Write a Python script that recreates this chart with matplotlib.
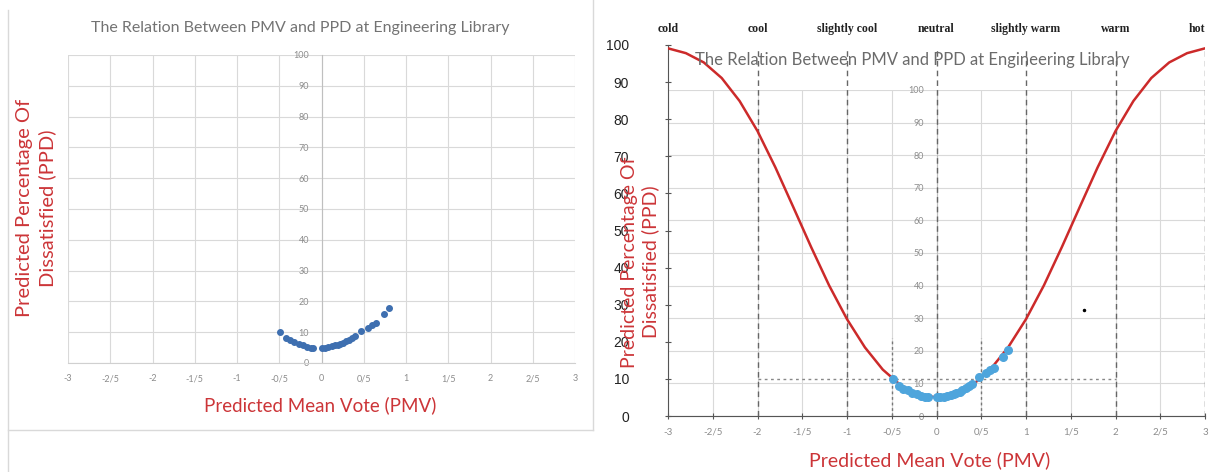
import numpy as np
import matplotlib
matplotlib.use("Agg")
import matplotlib.pyplot as plt
from matplotlib.lines import Line2D
from matplotlib.transforms import blended_transform_factory

# survey points (PMV, PPD)
pmv = [-0.49, -0.42, -0.37, -0.32, -0.27, -0.22, -0.17, -0.13, -0.10, 0.0, 0.04, 0.08,
       0.12, 0.16, 0.19, 0.22, 0.26, 0.29, 0.33, 0.36, 0.40, 0.47, 0.55, 0.60, 0.64, 0.74, 0.80]
ppd = [10.0, 8.0, 7.4, 6.9, 6.3, 5.9, 5.3, 5.0, 5.0, 5.0, 5.0, 5.1,
       5.4, 5.7, 6.0, 6.2, 6.6, 7.0, 7.5, 8.0, 8.7, 10.5, 11.5, 12.5, 13.0, 16.0, 17.8]

# red reference curve
curve_pmv = [-3.0, -2.8, -2.6, -2.4, -2.2, -2.0, -1.8, -1.6, -1.4, -1.2, -1.0, -0.8, -0.6, -0.4, -0.2,
             0.0, 0.2, 0.4, 0.6, 0.8, 1.0, 1.2, 1.4, 1.6, 1.8, 2.0, 2.2, 2.4, 2.6, 2.8, 3.0]
curve_ppd = [99.1, 97.8, 95.3, 91.1, 84.9, 76.8, 67.0, 56.3, 45.5, 35.2, 26.1, 18.5, 12.5, 8.3, 5.8,
             5.0, 5.8, 8.3, 12.5, 18.5, 26.1, 35.2, 45.5, 56.3, 67.0, 76.8, 84.9, 91.1, 95.3, 97.8, 99.1]

x_ticks = [-3, -2.5, -2, -1.5, -1, -0.5, 0, 0.5, 1, 1.5, 2, 2.5, 3]
x_labels = ['-3', '-2/5', '-2', '-1/5', '-1', '-0/5', '0', '0/5', '1', '1/5', '2', '2/5', '3']
y_ticks = [0, 10, 20, 30, 40, 50, 60, 70, 80, 90, 100]

sensation = ['cold', 'cool', 'slightly cool', 'neutral', 'slightly warm', 'warm', 'hot']
sensation_pmv = [-3, -2, -1, 0, 1, 2, 3]
dashed_pmv = [-2, -1, 0, 1, 2, 3]
stray_dot = (1.65, 28.6)

title = 'The Relation Between PMV and PPD at Engineering Library'
red = '#cc3538'
W, H = 1213, 472

plt.rcParams['font.family'] = ['Lato', 'DejaVu Sans']
fig = plt.figure(figsize=(W / 100, H / 100), dpi=100)


def px_axes(x0, y0, x1, y1):
    return fig.add_axes([x0 / W, 1 - y1 / H, (x1 - x0) / W, (y1 - y0) / H])


def excel_grid(ax):
    ax.set_xlim(-3, 3)
    ax.set_ylim(0, 100)
    ax.set_xticks(x_ticks)
    ax.set_yticks(y_ticks)
    ax.grid(True, color='#d9d9d9', lw=0.8)
    ax.set_axisbelow(True)
    for s in ['top', 'right']:
        ax.spines[s].set_visible(False)
    ax.spines['left'].set_position(('data', 0))
    ax.spines['left'].set_color('#bfbfbf')
    ax.spines['bottom'].set_color('#d0d0d0')
    ax.tick_params(length=0, labelsize=6.5, labelcolor='#8c8c8c')
    ax.tick_params(axis='y', pad=9)


# frame of the left chart
for xs, ys in [([8, 8], [10, 472]), ([8, 593], [430, 430]), ([593, 593], [0, 430])]:
    fig.add_artist(Line2D([x / W for x in xs], [1 - y / H for y in ys],
                          transform=fig.transFigure, color='#d9d9d9', lw=1))

# ---------- left chart ----------
ax1 = px_axes(68, 55, 575, 363)
excel_grid(ax1)
ax1.set_xticklabels(x_labels)
ax1.tick_params(axis='x', pad=8)
ax1.scatter(pmv, ppd, s=16, color='#3e6fb0', zorder=3)

fig.text(300 / W, 1 - 28 / H, title, ha='center', va='center', fontsize=11.5, color='#737373')
fig.text(320 / W, 1 - 405 / H, 'Predicted Mean Vote (PMV)', ha='center', va='center',
         fontsize=13.5, color=red)
fig.text(36 / W, 1 - 208 / H, 'Predicted Percentage Of\nDissatisfied (PPD)', ha='center', va='center',
         rotation=90, multialignment='center', fontsize=14.5, color=red, linespacing=1.35)

# ---------- right chart: pasted copy of the excel grid ----------
inner = px_axes(668, 90, 1205, 416)
excel_grid(inner)
inner.set_xticklabels([])
inner.patch.set_alpha(0)
fig.text(912 / W, 1 - 60 / H, title, ha='center', va='center', fontsize=12, color='#6b6b6b')

# ---------- right chart: PMV-PPD reference curve ----------
outer = px_axes(668, 45, 1205, 416)
outer.patch.set_alpha(0)
outer.set_xlim(-3, 3)
outer.set_ylim(0, 100)
for s in ['top', 'right']:
    outer.spines[s].set_visible(False)
outer.spines['left'].set_color('#555555')
outer.spines['bottom'].set_color('#555555')
outer.set_xticks(x_ticks)
outer.set_xticklabels(x_labels)
outer.set_yticks(y_ticks)
outer.tick_params(axis='x', direction='inout', length=5, color='#555555',
                  labelsize=7, labelcolor='#8c8c8c', pad=6)
outer.tick_params(axis='y', direction='inout', length=4, color='#555555', labelsize=10,
                  labelcolor='#222222', pad=26, labelfontfamily='Liberation Sans')

outer.vlines(dashed_pmv, 0, 99, colors='#666666', linestyles=(0, (4, 3)), lw=1)
outer.vlines([-0.5, 0.5], 0, 21, colors='#777777', linestyles=(0, (2, 2)), lw=1)
outer.hlines(10, -2, 2, colors='#888888', linestyles=(0, (2, 2.5)), lw=1)
outer.plot(curve_pmv, curve_ppd, color='#cc2a2a', lw=1.8, zorder=4)
outer.scatter(pmv, ppd, s=30, color='#4ea5dc', zorder=5)
outer.plot(*stray_dot, 'k.', ms=3)

tr = blended_transform_factory(outer.transData, fig.transFigure)
for name, xv in zip(sensation, sensation_pmv):
    ha = 'right' if xv == 3 else 'center'
    outer.text(xv, 1 - 29 / H, name, transform=tr, ha=ha, va='center', fontsize=8.5,
               fontweight='bold', family='Liberation Serif', color='#222222')

fig.text(930 / W, 1 - 460 / H, 'Predicted Mean Vote (PMV)', ha='center', va='center',
         fontsize=14, color=red)
fig.text(640 / W, 1 - 262 / H, 'Predicted Percentage Of\nDissatisfied (PPD)', ha='center', va='center',
         rotation=90, multialignment='center', fontsize=14, color=red, linespacing=1.25)

fig.savefig('out.png', dpi=100)
